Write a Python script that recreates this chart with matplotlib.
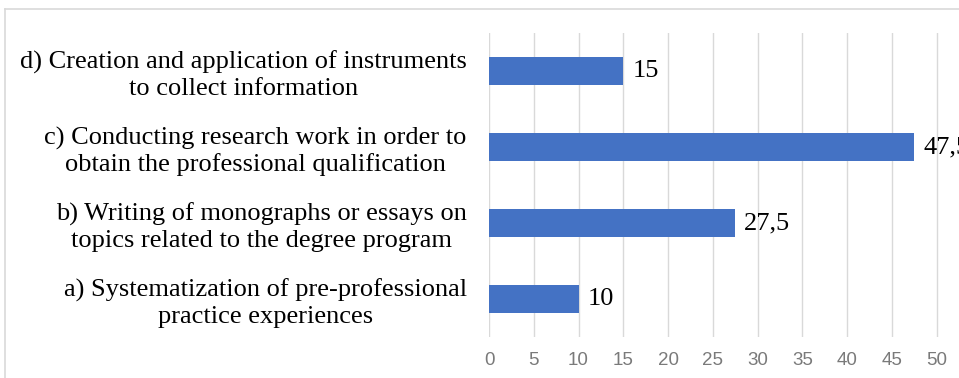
import matplotlib.pyplot as plt
from matplotlib.lines import Line2D

# 各选项及其百分比
categories = [
    "a) Systematization of pre-professional\npractice experiences",
    "b) Writing of monographs or essays on\ntopics related to the degree program",
    "c) Conducting research work in order to\nobtain the professional qualification",
    "d) Creation and application of instruments\nto collect information",
]
values = [10, 27.5, 47.5, 15]
value_labels = ["10", "27,5", "47,5", "15"]
x_ticks = [0, 5, 10, 15, 20, 25, 30, 35, 40, 45, 50]

fig = plt.figure(figsize=(9.59, 3.78), dpi=100)
ax = fig.add_axes([489 / 959, 1 - 337 / 378, 1 - 489 / 959, 304 / 378])

pos = range(len(categories))
ax.barh(pos, values, height=0.36, color="#4472C4", zorder=3)
for y, v, lab in zip(pos, values, value_labels):
    ax.text(v + 1.0, y, lab, va="center", ha="left", fontsize=19,
            family="Liberation Serif", color="black", clip_on=False)

ax.set_xlim(0, 52.5)
ax.set_ylim(-0.5, 3.5)
ax.set_xticks(x_ticks)
ax.set_xticklabels([str(t) for t in x_ticks], fontsize=13.5, color="#7a7a7a",
                   family="Liberation Sans")
ax.set_yticks(list(pos))
ax.set_yticklabels(categories, fontsize=19, family="Liberation Serif",
                   multialignment="center", linespacing=1.2)
ax.tick_params(axis="both", length=0)
ax.tick_params(axis="y", pad=16)
ax.tick_params(axis="x", pad=11)
ax.xaxis.grid(True, color="#d9d9d9", linewidth=1, zorder=0)
for s in ax.spines.values():
    s.set_visible(False)

# 外框
fig.add_artist(Line2D([5 / 959, 5 / 959], [0, 1 - 9 / 378], color="#d9d9d9", lw=1.2))
fig.add_artist(Line2D([5 / 959, 1], [1 - 9 / 378, 1 - 9 / 378], color="#d9d9d9", lw=1.2))

fig.savefig("out.png", dpi=100)
